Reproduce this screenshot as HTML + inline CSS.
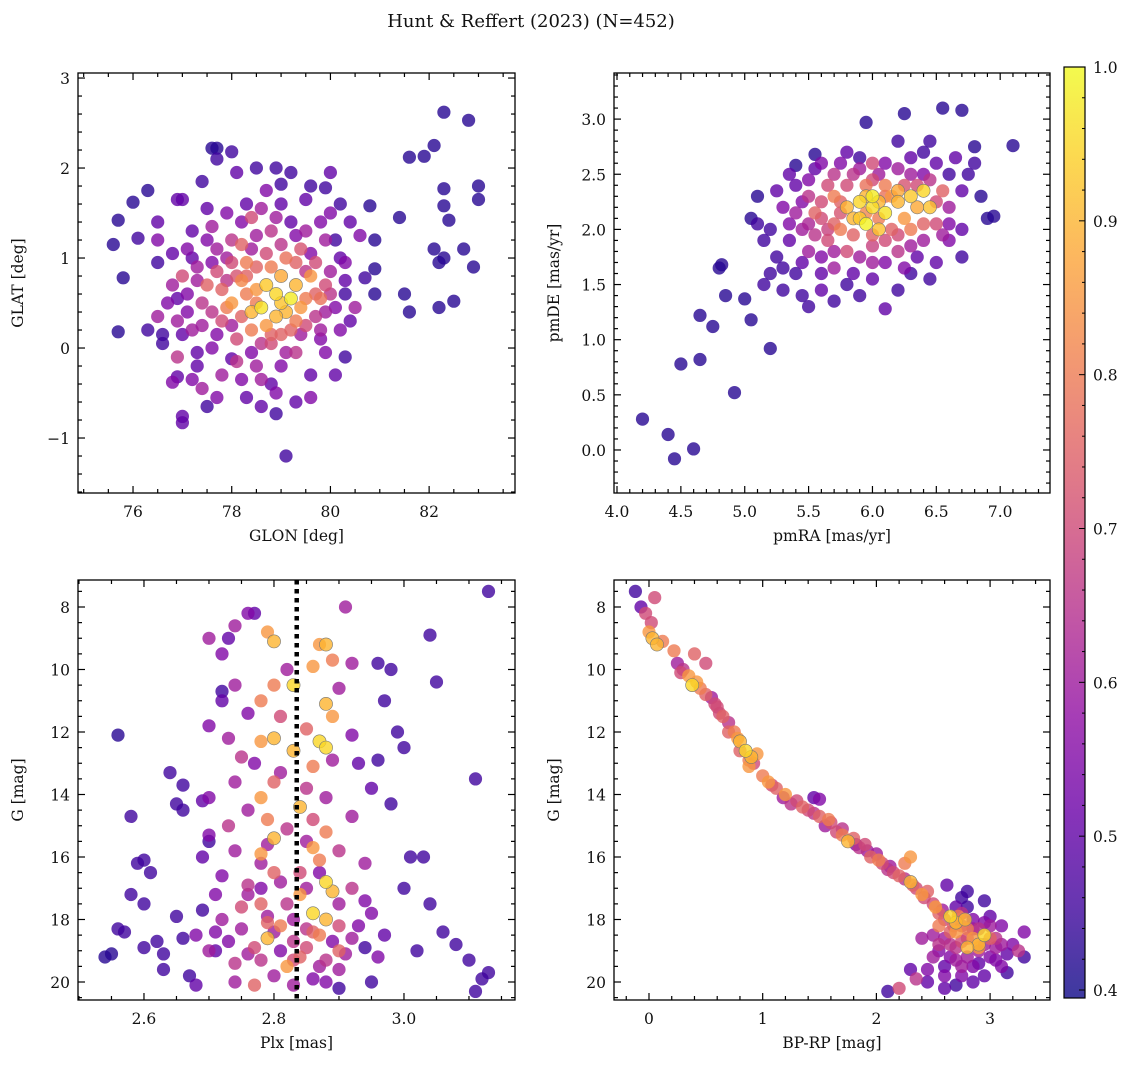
<!DOCTYPE html>
<html><head><meta charset="utf-8"><style>
html,body{margin:0;padding:0;background:#fff;}
svg text{font-family:"DejaVu Serif","Liberation Serif",serif;fill:#111;}
</style></head><body>
<svg id="fig" width="1136" height="1067" viewBox="0 0 1136 1067" xmlns="http://www.w3.org/2000/svg">
<defs>
<linearGradient id="plasma" x1="0" y1="1" x2="0" y2="0">
<stop offset="0" stop-color="#0d0887"/><stop offset="0.1" stop-color="#41049d"/><stop offset="0.2" stop-color="#6a00a8"/><stop offset="0.3" stop-color="#8f0da4"/><stop offset="0.4" stop-color="#b12a90"/><stop offset="0.5" stop-color="#cc4778"/><stop offset="0.6" stop-color="#e16462"/><stop offset="0.7" stop-color="#f2844b"/><stop offset="0.8" stop-color="#fca636"/><stop offset="0.9" stop-color="#fcce25"/><stop offset="1" stop-color="#f0f921"/>
</linearGradient>
</defs>
<text x="531" y="27" font-size="18" text-anchor="middle">Hunt &amp; Reffert (2023) (N=452)</text>
</svg>
<script>
// ---- data: [x, y, membership probability] ----
const glonGlat = [[75.6,1.15,.42],[75.7,1.42,.42],[75.8,0.78,.42],[75.7,0.18,.42],[76.0,1.62,.42],[76.1,1.22,.45],[76.3,1.75,.42],[76.3,0.2,.45],[76.5,1.4,.5],[76.5,0.95,.45],[76.6,0.05,.45],[76.8,-0.38,.55],[76.9,-0.32,.5],[76.9,0.55,.5],[77.0,-0.76,.5],[77.0,-0.83,.5],[76.9,1.65,.5],[77.0,1.65,.5],[77.3,-0.2,.5],[77.4,1.85,.45],[77.5,-0.65,.45],[77.6,2.22,.42],[77.7,2.22,.42],[77.7,2.1,.45],[78.0,2.18,.45],[78.0,-0.12,.5],[78.3,-0.55,.5],[78.5,2.0,.45],[78.6,-0.65,.5],[78.9,-0.73,.45],[79.1,-1.2,.45],[79.0,1.82,.45],[79.2,1.95,.45],[79.5,1.65,.5],[79.6,1.8,.45],[79.9,1.78,.45],[80.1,1.2,.45],[80.2,1.6,.45],[80.3,0.6,.45],[80.3,-0.1,.45],[80.4,0.3,.5],[80.7,0.78,.45],[80.8,1.58,.42],[80.9,1.2,.42],[80.9,0.88,.42],[80.9,0.6,.42],[81.4,1.45,.42],[81.5,0.6,.42],[81.6,0.4,.42],[81.6,2.12,.42],[81.9,2.13,.42],[82.1,2.25,.42],[82.1,1.1,.42],[82.3,1.77,.42],[82.3,1.58,.42],[82.3,1.0,.42],[82.2,0.45,.42],[82.4,1.42,.42],[82.5,0.52,.42],[82.7,1.1,.42],[82.9,0.9,.42],[82.3,2.62,.42],[82.8,2.53,.42],[83.0,1.8,.42],[83.0,1.65,.42],[82.2,0.95,.42],
[77.2,1.3,.5],[77.5,1.2,.55],[77.3,0.9,.6],[77.0,0.8,.7],[77.1,0.6,.55],[77.4,0.5,.65],[77.2,0.2,.6],[77.6,0.0,.55],[77.8,-0.3,.6],[77.3,-0.05,.5],[76.9,0.3,.6],[77.0,0.15,.5],[76.6,0.15,.45],[76.7,0.5,.55],[76.5,0.35,.6],[77.5,0.7,.75],[77.7,0.85,.7],[77.9,1.0,.6],[78.0,1.2,.65],[78.2,1.4,.55],[78.4,1.1,.6],[78.1,0.8,.72],[78.3,0.6,.8],[78.0,0.5,.85],[78.2,0.35,.75],[77.8,0.3,.7],[78.1,0.1,.7],[78.4,0.2,.8],[78.6,0.05,.65],[78.5,-0.2,.6],[78.2,-0.35,.55],[78.8,-0.4,.5],[79.0,-0.2,.55],[79.3,-0.05,.65],[79.2,0.2,.75],[79.5,0.25,.7],[79.8,0.1,.55],[79.6,-0.3,.5],[79.9,0.4,.6],[80.0,0.6,.65],[79.7,0.6,.75],[79.4,0.45,.85],[79.1,0.4,.9],[78.9,0.6,.95],[78.7,0.7,.93],[79.0,0.8,.88],[78.6,0.45,.97],[79.2,0.55,.98],[78.9,0.35,.9],[78.5,0.65,.85],[79.3,0.7,.9],[78.8,0.9,.8],[79.1,1.0,.78],[79.4,1.1,.72],[79.7,0.95,.7],[80.0,0.85,.6],[79.5,1.3,.6],[79.2,1.4,.5],[78.8,1.3,.65],[78.6,1.55,.6],[79.0,1.6,.5],[79.8,1.4,.55],[80.2,1.0,.5],[80.4,1.4,.5],[80.0,1.5,.55],[78.3,1.6,.5],[77.9,1.5,.55],[77.5,1.55,.5],[77.1,1.1,.55],[76.8,1.05,.5],[78.5,0.9,.75],[78.3,0.95,.8],[77.8,0.65,.75],[78.7,0.25,.85],[79.0,0.15,.75],[79.6,0.8,.85],[79.8,0.55,.78],[80.3,0.75,.5],[76.5,1.2,.55],[77.7,-0.55,.55],[78.9,-0.5,.55],[79.3,-0.6,.5],[79.6,-0.55,.55],[80.1,-0.3,.5],[77.4,-0.45,.6],[76.9,-0.1,.65],[80.5,0.45,.6],[80.6,1.25,.55],[79.9,1.2,.6],[78.1,1.95,.5],[78.9,2.0,.45],[78.7,1.75,.55],[80.0,1.95,.5],[78.4,0.4,.9],[79.3,0.3,.8],[78.2,0.75,.82],[79.5,0.55,.8],[77.6,0.4,.65],[80.2,0.2,.55],
[77.3,0.75,.6],[77.6,0.95,.55],[77.9,0.75,.65],[78.0,0.95,.7],[78.2,1.15,.75],[78.5,1.25,.6],[78.7,1.05,.7],[79.0,1.15,.65],[79.3,0.95,.75],[79.6,1.05,.55],[79.9,0.7,.7],[80.1,0.45,.55],[79.7,0.35,.65],[79.4,0.15,.6],[79.1,-0.05,.6],[78.8,0.05,.7],[78.4,-0.05,.55],[78.0,0.25,.6],[77.7,0.15,.55],[77.4,0.25,.6],[77.1,0.4,.55],[76.8,0.7,.6],[77.2,1.0,.5],[77.6,1.35,.6],[78.4,1.45,.7],[78.9,1.45,.6],[79.3,1.25,.55],[79.8,0.2,.6],[78.6,-0.35,.6],[78.1,-0.15,.65],[77.9,0.45,.8],[78.5,0.5,.8],[79.0,0.5,.92],[78.8,0.15,.75],[79.5,0.85,.65],[78.3,0.8,.75],[77.7,1.1,.6],[80.3,0.95,.55],[77.2,-0.35,.55],[79.9,-0.05,.55]];

const pmraPmde = [[4.2,0.28,.42],[4.4,0.14,.42],[4.45,-0.08,.42],[4.6,0.01,.42],[4.5,0.78,.42],[4.65,0.82,.42],[4.65,1.22,.42],[4.75,1.12,.42],[4.85,1.4,.42],[4.8,1.65,.42],[4.82,1.68,.42],[4.92,0.52,.42],[5.0,1.37,.42],[5.05,1.18,.42],[5.2,0.92,.42],[5.15,1.5,.45],[5.05,2.1,.42],[5.1,2.3,.42],[5.4,2.58,.42],[5.55,2.68,.42],[5.95,2.97,.42],[6.25,3.05,.42],[6.55,3.1,.42],[6.7,3.08,.42],[7.1,2.76,.42],[6.9,2.1,.42],[6.1,1.28,.5],[6.7,1.75,.45],[6.8,2.75,.42],[6.75,2.5,.45],[6.85,2.3,.42],[6.95,2.12,.42],
[5.5,2.3,.65],[5.6,2.1,.7],[5.45,2.0,.6],[5.5,1.8,.6],[5.65,1.9,.7],[5.8,1.8,.7],[6.0,1.7,.6],[6.2,1.8,.65],[6.4,1.9,.6],[6.5,2.05,.7],[6.6,2.2,.6],[6.3,2.5,.6],[6.1,2.6,.55],[5.9,2.55,.6],[5.7,2.5,.65],[5.3,2.2,.55],[5.35,1.9,.5],[5.4,1.6,.45],[5.6,1.6,.5],[5.8,1.5,.45],[6.0,1.55,.5],[6.3,1.6,.45],[6.5,1.7,.5],[6.6,1.9,.55],[6.7,2.35,.5],[6.5,2.6,.5],[6.4,2.7,.45],[6.2,2.8,.45],[5.8,2.7,.5],[5.4,2.4,.5],[5.25,1.75,.45],[5.2,2.0,.45],[5.55,2.15,.75],[5.7,1.65,.6],[6.1,1.9,.7],[6.3,2.0,.8],[5.85,1.95,.75],[6.55,2.35,.75],[5.6,2.6,.55],[5.3,1.45,.45],[5.5,1.3,.45],[5.45,1.4,.45],[5.7,1.35,.45],[5.9,1.4,.45],[6.2,1.45,.45],[6.05,2.5,.6],[5.9,2.65,.45],[6.0,2.6,.7],[6.3,2.65,.5],[6.6,2.5,.45],[6.8,2.6,.45],[6.45,1.55,.45],[5.15,1.9,.45],[5.2,1.6,.45],[5.35,2.5,.5],[5.1,2.05,.45],[6.4,2.5,.55],[5.6,1.45,.5],[5.75,2.15,.72],[6.0,1.85,.68],[6.4,2.05,.75],[5.65,2.4,.7],[6.25,2.4,.72],[5.5,2.05,.62],[5.95,2.4,.78],
[5.4,2.15,.6],[5.45,2.25,.55],[5.55,1.95,.65],[5.6,2.25,.7],[5.7,2.05,.75],[5.7,1.8,.6],[5.8,2.4,.7],[5.85,2.5,.65],[5.9,1.75,.6],[6.0,1.95,.75],[6.05,2.1,.8],[6.15,2.0,.75],[6.2,1.95,.7],[6.2,2.55,.6],[6.3,1.85,.6],[6.35,2.4,.7],[6.45,2.45,.65],[6.5,2.25,.7],[6.55,1.95,.6],[6.6,2.05,.55],[5.65,2.0,.68],[5.75,2.25,.75],[5.95,2.15,.82],[6.1,2.3,.78],[6.0,2.45,.7],[5.5,2.45,.55],[5.35,2.05,.55],[5.45,1.7,.5],[5.6,1.75,.55],[6.1,1.7,.55],[6.35,1.75,.5],[6.7,2.0,.5],[6.45,2.8,.45],[5.75,2.6,.55],[5.55,2.55,.5],[5.85,1.6,.5],[6.25,1.65,.55],[5.3,1.65,.45],[6.65,2.65,.5],[5.25,2.35,.5],
[5.8,2.2,.9],[5.9,2.25,.95],[6.0,2.3,.98],[6.1,2.15,.97],[5.95,2.05,.99],[6.05,2.0,.92],[6.2,2.25,.9],[6.3,2.3,.93],[6.4,2.35,.95],[5.85,2.1,.9],[6.15,2.3,.85],[6.25,2.1,.85],[5.75,2.0,.8],[6.35,2.2,.88],[6.45,2.2,.92],[5.95,2.3,.9],[6.1,2.4,.8],[5.7,2.3,.8],[6.0,2.2,.96],[5.9,2.1,.93],[6.2,2.35,.88],[6.05,2.25,.9]];

const plxG = [[2.55,19.1,.42],[2.54,19.2,.42],[2.56,12.1,.42],[2.57,18.4,.45],[2.56,18.3,.45],[2.58,14.7,.45],[2.59,16.2,.45],[2.58,17.2,.45],[2.6,16.1,.45],[2.61,16.5,.45],[2.62,18.7,.45],[2.6,18.9,.45],[2.63,19.6,.45],[2.64,13.3,.45],[2.65,14.3,.45],[2.66,14.5,.45],[2.65,17.9,.45],[2.67,19.8,.45],[2.66,13.7,.45],[2.69,14.2,.5],[2.7,15.5,.45],[2.69,17.7,.45],[2.71,19.0,.5],[2.72,10.7,.45],[2.73,9.0,.5],[2.77,8.2,.5],[2.98,10.0,.45],[2.97,11.0,.45],[2.99,12.0,.45],[3.0,12.5,.45],[2.96,12.9,.45],[3.01,16.0,.45],[3.03,16.0,.45],[3.04,17.5,.45],[3.06,18.4,.45],[3.08,18.8,.45],[3.1,19.3,.45],[3.11,13.5,.45],[3.12,19.9,.45],[3.13,19.7,.45],[3.11,20.3,.45],[3.13,7.5,.45],[3.05,10.4,.45],[3.04,8.9,.45],[2.96,9.8,.45],[2.98,14.3,.45],[3.0,17.0,.45],[2.95,20.0,.45],[2.9,20.2,.45],[2.68,20.1,.5],[2.63,19.1,.45],[2.6,17.5,.45],[2.66,18.6,.45],[2.94,18.9,.45],[3.02,19.0,.45],
[2.76,8.2,.55],[2.74,8.6,.6],[2.7,9.0,.6],[2.72,9.5,.55],[2.74,10.5,.6],[2.72,11.0,.5],[2.7,11.8,.55],[2.73,12.2,.6],[2.75,12.8,.65],[2.74,13.6,.6],[2.7,14.1,.55],[2.73,15.0,.65],[2.7,15.3,.55],[2.74,15.8,.6],[2.72,16.6,.55],[2.76,16.9,.65],[2.75,17.6,.7],[2.72,18.0,.6],[2.68,18.5,.55],[2.7,19.0,.6],[2.74,19.4,.65],[2.77,20.1,.75],[2.91,8.0,.6],[2.92,9.8,.6],[2.9,10.6,.6],[2.92,12.1,.55],[2.93,13.0,.5],[2.95,13.8,.5],[2.92,14.7,.6],[2.9,15.8,.65],[2.94,16.2,.6],[2.92,17.0,.65],[2.95,17.8,.55],[2.9,18.2,.7],[2.92,18.6,.6],[2.96,19.2,.55],[2.9,19.6,.6],[2.86,19.9,.55],[2.8,19.8,.6],[2.82,17.5,.65],[2.78,16.2,.6],[2.84,16.5,.7],[2.76,14.5,.6],[2.81,11.5,.7],[2.85,11.9,.75],[2.77,18.9,.7],[2.83,18.7,.65],[2.79,17.9,.6],[2.88,19.3,.65],[2.75,18.3,.6],
[2.73,18.7,.55],[2.76,19.1,.6],[2.78,19.3,.65],[2.8,18.4,.6],[2.81,19.0,.55],[2.83,18.0,.6],[2.85,18.3,.65],[2.87,19.5,.6],[2.89,18.7,.55],[2.91,19.1,.6],[2.93,18.2,.55],[2.76,17.2,.6],[2.78,17.0,.55],[2.81,16.8,.6],[2.85,17.0,.6],[2.87,16.5,.55],[2.9,17.5,.6],[2.79,15.6,.6],[2.82,15.1,.65],[2.85,15.5,.6],[2.88,14.1,.6],[2.81,13.3,.6],[2.85,13.8,.65],[2.77,13.0,.55],[2.89,12.9,.6],[2.82,10.0,.6],[2.76,11.4,.55],[2.71,17.2,.55],[2.69,16.0,.5],[2.94,17.4,.55],[2.97,18.5,.5],[2.88,20.0,.55],[2.83,20.1,.6],[2.74,20.0,.6],[2.71,18.4,.55],[2.79,18.1,.75],[2.86,18.4,.75],[2.83,19.3,.7],
[2.79,8.8,.85],[2.8,9.1,.9],[2.87,9.2,.85],[2.88,9.2,.9],[2.89,9.7,.8],[2.86,9.9,.85],[2.83,10.5,.95],[2.8,10.5,.8],[2.78,11.0,.8],[2.88,11.1,.9],[2.89,11.5,.85],[2.78,12.3,.85],[2.8,12.2,.9],[2.87,12.3,.95],[2.88,12.5,.95],[2.83,12.6,.9],[2.86,13.1,.8],[2.8,13.6,.75],[2.78,14.1,.85],[2.84,14.4,.9],[2.86,14.8,.7],[2.79,14.8,.8],[2.88,15.2,.8],[2.8,15.4,.9],[2.86,15.7,.85],[2.78,15.9,.85],[2.87,16.1,.8],[2.8,16.5,.75],[2.88,16.8,.95],[2.89,17.1,.9],[2.84,17.2,.85],[2.78,17.5,.75],[2.86,17.8,.95],[2.88,18.0,.9],[2.81,18.2,.8],[2.79,18.6,.9],[2.87,18.5,.8],[2.85,18.9,.7],[2.9,19.0,.75],[2.82,19.5,.85],[2.84,19.2,.75]];

const bprpG = [[-0.12,7.5,.45],[-0.07,8.0,.5],[-0.03,8.2,.7],[0.02,8.5,.7],[0.0,8.8,.85],[0.03,9.0,.9],[0.07,9.2,.9],[0.05,7.7,.7],[0.22,9.4,.8],[0.25,9.8,.6],[0.3,10.0,.65],[0.35,10.2,.85],[0.38,10.5,.95],[0.45,10.6,.8],[0.5,10.8,.75],[0.4,9.5,.75],[0.5,9.8,.7],[0.58,11.1,.7],[0.62,11.4,.7],[0.7,11.7,.65],[0.75,12.0,.8],[0.8,12.3,.9],[0.85,12.6,.95],[0.9,12.8,.9],[0.95,12.7,.85],[0.88,13.1,.85],[1.0,13.4,.8],[1.05,13.6,.85],[1.12,13.8,.75],[1.2,14.0,.85],[1.3,14.2,.7],[1.45,14.1,.5],[1.5,14.15,.55],[1.4,14.5,.7],[1.5,14.7,.75],[1.6,14.9,.7],[1.65,15.2,.7],[1.75,15.5,.9],[1.8,15.4,.75],[1.85,15.7,.65],[1.95,16.0,.75],[2.05,16.2,.7],[2.1,16.4,.65],[2.2,16.6,.75],[2.25,16.2,.8],[2.3,16.8,.9],[2.35,17.0,.7],[2.4,17.2,.85],[2.45,17.1,.75],[2.5,17.5,.7],[2.55,17.8,.75],[2.6,18.0,.7],[2.65,17.9,.95],[2.7,18.1,.9],[2.75,17.8,.65],[2.8,18.3,.8],[2.85,18.6,.85],[2.9,18.8,.9],[2.95,18.5,.95],[2.62,16.9,.5],[2.75,17.3,.45],[2.8,17.6,.45],[2.3,16.0,.85],[0.88,12.9,.8],[0.8,12.6,.75],[1.55,15.0,.6],[1.25,14.3,.65],[0.6,11.2,.7],[1.7,15.1,.65],[1.9,15.6,.7],[2.0,15.9,.6],[2.15,16.5,.7],[0.7,12.0,.75],
[0.12,9.1,.8],[0.28,10.1,.7],[0.42,10.4,.85],[0.55,10.9,.6],[0.65,11.5,.75],[0.78,12.2,.85],[0.92,13.0,.7],[1.08,13.7,.7],[1.18,14.1,.6],[1.35,14.4,.75],[1.45,14.6,.65],[1.58,14.8,.8],[1.7,15.3,.8],[1.82,15.6,.55],[1.92,15.8,.6],[2.02,16.1,.8],[2.12,16.3,.6],[2.25,16.7,.65],[2.32,16.9,.75],[2.42,17.3,.7],[2.52,17.6,.85],[2.58,17.7,.6],[2.68,18.2,.75],[2.72,17.9,.8],[2.78,18.0,.9],
[2.5,18.5,.6],[2.55,19.0,.55],[2.6,19.5,.5],[2.65,18.8,.65],[2.7,19.3,.6],[2.75,19.8,.55],[2.8,19.2,.6],[2.85,19.5,.55],[2.9,19.0,.6],[3.0,19.2,.55],[3.05,18.9,.6],[3.1,19.5,.55],[3.15,19.7,.45],[3.2,18.8,.55],[3.25,19.0,.65],[3.3,18.4,.55],[3.0,18.2,.6],[3.05,18.6,.65],[2.95,19.8,.5],[2.7,20.1,.45],[2.6,20.2,.5],[2.45,19.6,.55],[2.35,19.9,.65],[2.2,20.2,.7],[2.1,20.3,.45],[2.45,20.0,.5],[2.85,18.0,.55],[2.65,18.4,.75],[2.55,18.2,.8],[2.75,18.7,.7],[2.9,18.3,.65],[3.1,18.2,.55],[2.8,17.1,.45],[2.7,17.6,.5],[2.95,17.4,.45],[2.6,19.8,.55],[2.85,20.0,.5],[2.9,18.9,.85],[2.8,18.9,.9],[2.5,19.2,.6],[2.3,19.6,.5],[3.3,19.2,.45],[3.0,17.9,.5],[2.4,18.6,.6],[3.15,19.1,.5],
[2.6,18.6,.6],[2.7,18.9,.65],[2.8,18.6,.7],[2.95,18.8,.6],[3.05,19.3,.55],[3.1,18.8,.6],[2.65,19.2,.55],[2.75,19.5,.6],[2.9,19.4,.5],[2.55,18.8,.65],[2.85,18.3,.6],[3.0,18.6,.75],[2.95,18.1,.55],[2.7,18.4,.85],[2.75,18.2,.7]];

const cbTicks = [0.4,0.5,0.6,0.7,0.8,0.9,1.0];
const plxMean = 2.835;

const NS='http://www.w3.org/2000/svg';
const svg=document.getElementById('fig');
function mk(tag,attrs,parent){const e=document.createElementNS(NS,tag);for(const k in attrs)e.setAttribute(k,attrs[k]);(parent||svg).appendChild(e);return e;}

const stops=[[13,8,135],[65,4,157],[106,0,168],[143,13,164],[177,42,144],[204,71,120],[225,100,98],[242,132,75],[252,166,54],[252,206,37],[240,249,33]];
function plasma(p){let t=(p-0.39)/(1-0.39);t=Math.max(0,Math.min(1,t))*10;const i=Math.min(9,Math.floor(t)),f=t-i;const a=stops[i],b=stops[i+1];return 'rgb('+a.map((v,k)=>Math.round(v+(b[k]-v)*f)).join(',')+')';}

function fmt(v,d){if(Math.abs(v)<1e-9)v=0;return v.toFixed(d).replace('-','\u2212');}

function panel(cfg){
  const {L,T,R,B,xmin,xmax,ymin,ymax,inv}=cfg;
  const sx=v=>L+(v-xmin)/(xmax-xmin)*(R-L);
  const sy=inv?(v=>T+(v-ymin)/(ymax-ymin)*(B-T)):(v=>B-(v-ymin)/(ymax-ymin)*(B-T));
  const g=mk('g',{});
  
  
  const cid='c'+cfg.name;
  const cp=mk('clipPath',{id:cid},g);mk('rect',{x:L,y:T,width:R-L,height:B-T},cp);
  const pg=mk('g',{'clip-path':'url(#'+cid+')'},g);
  const pts=cfg.data.slice().sort((a,b)=>a[2]-b[2]);
  pts.forEach(d=>{
    const c=mk('circle',{cx:sx(d[0]).toFixed(1),cy:sy(d[1]).toFixed(1),r:6.6,fill:plasma(d[2]),'fill-opacity':0.8,stroke:d[2]>0.85?'#777':'none','stroke-width':0.6},pg);
    
    
  });
  if(cfg.vline!==undefined){
    const l=mk('line',{x1:sx(cfg.vline),x2:sx(cfg.vline),y1:T,y2:B,stroke:'#000','stroke-width':4.5,'stroke-dasharray':'4.5,4.5'},pg);
    
    
  }
  const ax=mk('g',{stroke:'#000','stroke-width':1.2},g);
  const E=1e-9;
  for(let k=Math.ceil(xmin/cfg.xminor-E);k*cfg.xminor<=xmax+E;k++){
    const v=k*cfg.xminor;const x=sx(v);const maj=Math.abs(v/cfg.xmajor-Math.round(v/cfg.xmajor))<1e-6;const len=maj?7:4;
    mk('line',{x1:x,x2:x,y1:B,y2:B-len},ax);mk('line',{x1:x,x2:x,y1:T,y2:T+len},ax);
    if(maj){const t=mk('text',{x:x,y:B+24,'font-size':15.5,'text-anchor':'middle',stroke:'none'},g);t.textContent=fmt(v,cfg.xd);
      }
  }
  for(let k=Math.ceil(ymin/cfg.yminor-E);k*cfg.yminor<=ymax+E;k++){
    const v=k*cfg.yminor;const y=sy(v);const maj=Math.abs(v/cfg.ymajor-Math.round(v/cfg.ymajor))<1e-6;const len=maj?7:4;
    mk('line',{y1:y,y2:y,x1:L,x2:L+len},ax);mk('line',{y1:y,y2:y,x1:R,x2:R-len},ax);
    if(maj){const t=mk('text',{x:L-8,y:y+6,'font-size':15.5,'text-anchor':'end',stroke:'none'},g);t.textContent=fmt(v,cfg.yd);
      }
  }
  mk('rect',{x:L,y:T,width:R-L,height:B-T,fill:'none',stroke:'#000','stroke-width':1.3},g);
  const xl=mk('text',{x:(L+R)/2,y:B+48,'font-size':15.5,'text-anchor':'middle'},g);xl.textContent=cfg.xlabel;
  
  const yl=mk('text',{x:0,y:0,'font-size':15.5,'text-anchor':'middle',transform:'translate('+(cfg.ylx)+','+((T+B)/2)+') rotate(-90)'},g);yl.textContent=cfg.ylabel;
  
}

panel({name:'glon-glat-panel',L:78,T:73,R:515,B:493,xmin:74.885,xmax:83.74,ymin:-1.611,ymax:3.056,xmajor:2,xminor:0.5,ymajor:1,yminor:0.2,xd:0,yd:0,data:glonGlat,xlabel:'GLON [deg]',ylabel:'GLAT [deg]',ylx:23});
panel({name:'pm-panel',L:614,T:73,R:1050,B:493,xmin:3.9765,xmax:7.39,ymin:-0.390,ymax:3.418,xmajor:0.5,xminor:0.1,ymajor:0.5,yminor:0.1,xd:1,yd:1,data:pmraPmde,xlabel:'pmRA [mas/yr]',ylabel:'pmDE [mas/yr]',ylx:559});
panel({name:'plx-g-panel',L:78,T:580,R:515,B:1000,xmin:2.4985,xmax:3.1708,ymin:7.136,ymax:20.576,inv:true,xmajor:0.2,xminor:0.05,ymajor:2,yminor:0.5,xd:1,yd:0,data:plxG,vline:plxMean,xlabel:'Plx [mas]',ylabel:'G [mag]',ylx:23});
panel({name:'cmd-panel',L:614,T:580,R:1050,B:1000,xmin:-0.3078,xmax:3.527,ymin:7.136,ymax:20.576,inv:true,xmajor:1,xminor:0.2,ymajor:2,yminor:0.5,xd:0,yd:0,data:bprpG,xlabel:'BP-RP [mag]',ylabel:'G [mag]',ylx:559});

// colorbar
const cb=mk('g',{});


const cT=67,cB=998,cL=1064,cR=1085,vmin=0.3948,vmax=1.0;
mk('rect',{x:cL,y:cT,width:cR-cL,height:cB-cT,fill:'url(#plasma)','fill-opacity':0.8},cb);
mk('rect',{x:cL,y:cT,width:cR-cL,height:cB-cT,fill:'none',stroke:'#000','stroke-width':1.2},cb);
const cy=v=>cB-(v-vmin)/(vmax-vmin)*(cB-cT);
for(let k=20;k<=50;k++){const v=k*0.02;const y=cy(v);const maj=cbTicks.some(t=>Math.abs(t-v)<1e-6);
  mk('line',{x1:cR,x2:cR-(maj?6:3),y1:y,y2:y,stroke:'#000','stroke-width':1},cb);}
cbTicks.forEach(v=>{const t=mk('text',{x:cR+8,y:cy(v)+6,'font-size':15.5},cb);t.textContent=v.toFixed(1);
  });
</script>
</body></html>
